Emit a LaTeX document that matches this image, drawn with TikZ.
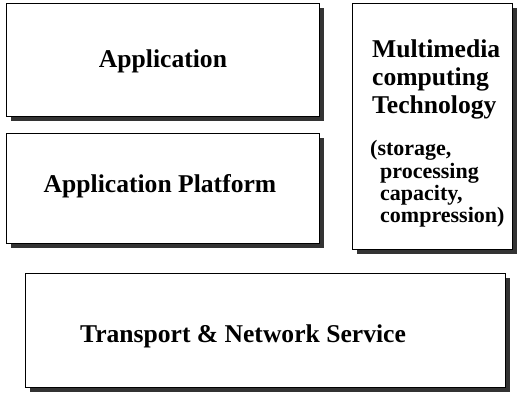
\documentclass[tikz,border=0pt]{standalone}
\usepackage{fontspec}
\setmainfont{Liberation Serif}
\usetikzlibrary{shadows}
\begin{document}
\begin{tikzpicture}[x=1pt,y=-1pt,
  layer/.style={draw=black, line width=0.8pt, fill=white, anchor=north west,
    drop shadow={shadow xshift=5pt, shadow yshift=-5pt, opacity=1, fill=black!80}},
  big/.style={font=\bfseries\fontsize{25.6}{28}\selectfont, inner sep=0pt},
  small/.style={font=\bfseries\fontsize{22}{23}\selectfont, inner sep=0pt}]
\useasboundingbox (0,0) rectangle (518,392);
% boxes
\node[layer, minimum width=313pt, minimum height=113pt] (app) at (6,3) {};
\node[layer, minimum width=313pt, minimum height=110pt] (plat) at (6,133) {};
\node[layer, minimum width=160pt, minimum height=246pt] (mm) at (352,3) {};
\node[layer, minimum width=480pt, minimum height=114pt] (tns) at (25,273) {};
% texts
\node[big, anchor=base] (tapp) at (163,67) {Application};
\node[big, anchor=base] (tplat) at (160,192) {Application Platform};
\node[big, anchor=base west] (tm1) at (372,57) {Multimedia};
\node[big, anchor=base west] (tm2) at (372,85) {computing};
\node[big, anchor=base west] (tm3) at (372,113) {Technology};
\node[small, anchor=base west] (tm4) at (370,155) {(storage,};
\node[small, anchor=base west] (tm5) at (380,178) {processing};
\node[small, anchor=base west] (tm6) at (380,200) {capacity,};
\node[small, anchor=base west] (tm7) at (380,222) {compression)};
\node[big, anchor=base] (ttns) at (243,342) {Transport \& Network Service};
\end{tikzpicture}
\end{document}
